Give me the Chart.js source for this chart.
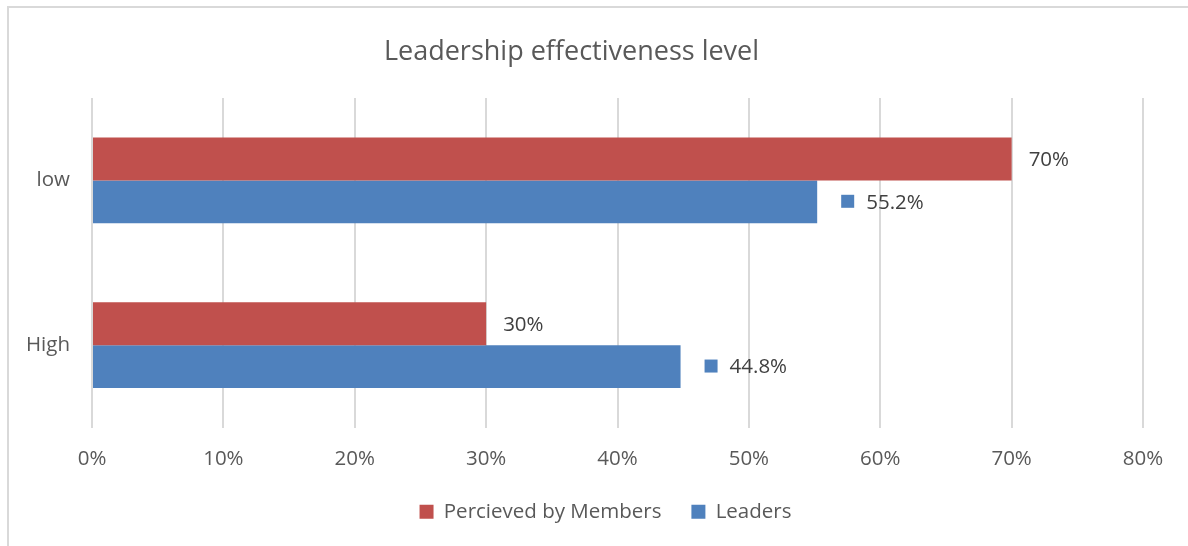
<!DOCTYPE html>
<html>
<head>
<meta charset="utf-8">
<title>Leadership effectiveness level</title>
<script src="https://cdn.jsdelivr.net/npm/chart.js@4.4.0/dist/chart.umd.min.js"></script>
<style>
    html, body { margin: 0; padding: 0; background: #fff; overflow: hidden; }
    #frame {
        position: absolute; left: 7px; top: 6px; width: 1300px; height: 700px;
        border: 2px solid #d9d9d9; box-sizing: border-box;
    }
    #wrap { position: absolute; left: 0; top: 0; width: 1188px; height: 546px; }
</style>
</head>
<body>
<div id="frame"></div>
<div id="wrap"><canvas id="chart"></canvas></div>
<script>
// Data
const categories = ['low', 'High'];
const seriesNames = ['Percieved by Members', 'Leaders'];
const membersValues = [70, 30];
const leadersValues = [55.2, 44.8];
const xTickValues = [0, 10, 20, 30, 40, 50, 60, 70, 80];

const RED = '#C0504D';
const BLUE = '#4F81BD';
const TEXT = '#595959';
const FONT = "'Open Sans', 'DejaVu Sans', sans-serif";

// Data labels at bar ends; Leaders labels carry a small legend key
const barLabels = {
    id: 'barLabels',
    afterDatasetsDraw(chart) {
        const ctx = chart.ctx;
        ctx.save();
        ctx.font = '20.5px ' + FONT;
        ctx.fillStyle = '#404040';
        ctx.textBaseline = 'middle';
        ctx.textAlign = 'left';
        chart.data.datasets.forEach((ds, di) => {
            const meta = chart.getDatasetMeta(di);
            meta.data.forEach((bar, i) => {
                const txt = ds.data[i] + '%';
                if (ds.withKey) {
                    ctx.fillStyle = ds.backgroundColor;
                    ctx.fillRect(bar.x + 24, bar.y - 7, 13, 13);
                    ctx.fillStyle = '#404040';
                    ctx.fillText(txt, bar.x + 49, bar.y + 1);
                } else {
                    ctx.fillText(txt, bar.x + 17, bar.y + 1);
                }
            });
        });
        ctx.restore();
    }
};

// nudge the legend a little to the left, like the original
const legendShift = {
    id: 'legendShift',
    afterLayout(chart) {
        if (chart.legend) {
            chart.legend.left -= 12;
            chart.legend.right -= 12;
        }
    }
};

new Chart(document.getElementById('chart'), {
    type: 'bar',
    data: {
        labels: categories,
        datasets: [{
            label: seriesNames[0],
            data: membersValues,
            backgroundColor: RED,
            borderWidth: 0,
            withKey: false
        }, {
            label: seriesNames[1],
            data: leadersValues,
            backgroundColor: BLUE,
            borderWidth: 0,
            withKey: true
        }]
    },
    plugins: [barLabels, legendShift],
    options: {
        indexAxis: 'y',
        responsive: true,
        maintainAspectRatio: false,
        animation: false,
        layout: {
            padding: { left: 0, right: 45, top: 0, bottom: 14 }
        },
        datasets: {
            bar: {
                categoryPercentage: 0.52,
                barPercentage: 1.0
            }
        },
        scales: {
            x: {
                min: 0,
                max: 80,
                afterBuildTicks(scale) {
                    scale.ticks = xTickValues.map(v => ({ value: v }));
                },
                ticks: {
                    callback: v => v + '%',
                    color: TEXT,
                    font: { family: FONT, size: 20.5 },
                    padding: 19,
                    maxRotation: 0
                },
                grid: {
                    color: '#d9d9d9',
                    lineWidth: 2,
                    drawTicks: false
                },
                border: { display: false },
                afterFit(scale) { scale.height = 44; }
            },
            y: {
                ticks: {
                    color: TEXT,
                    font: { family: FONT, size: 20.5 },
                    padding: 22
                },
                grid: { display: false, drawTicks: false },
                border: { display: false },
                afterFit(scale) { scale.width = 92; }
            }
        },
        plugins: {
            title: {
                display: true,
                text: 'Leadership effectiveness level',
                color: TEXT,
                font: { family: FONT, size: 27, weight: 'normal', lineHeight: 1.2 },
                padding: { top: 36, bottom: 29.6 }
            },
            legend: {
                position: 'bottom',
                fullSize: false,
                labels: {
                    boxWidth: 14,
                    boxHeight: 14,
                    padding: 30,
                    color: TEXT,
                    font: { family: FONT, size: 20.5 }
                }
            },
            tooltip: { enabled: false }
        }
    }
});
</script>
</body>
</html>
